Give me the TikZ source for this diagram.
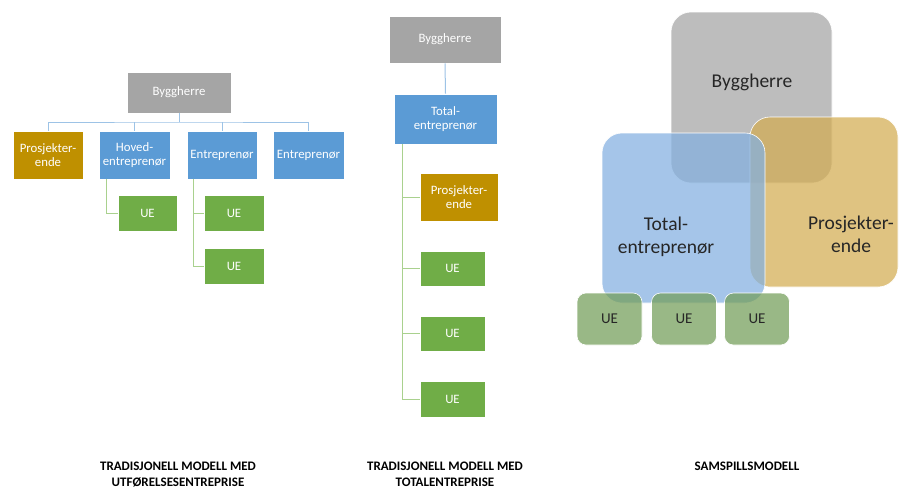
\documentclass[tikz,border=0pt]{standalone}
\usepackage{fontspec}
\setmainfont{Carlito}
\definecolor{cgray}{HTML}{A5A5A5}
\definecolor{cgold}{HTML}{BF9000}
\definecolor{cblue}{HTML}{5B9BD5}
\definecolor{cgreen}{HTML}{70AD47}
\definecolor{lblue}{HTML}{9DC3E6}
\definecolor{lgreen}{HTML}{A9D18E}
\definecolor{sgray}{HTML}{A4A4A4}
\definecolor{sgold}{HTML}{D3AC51}
\definecolor{sblue}{HTML}{83B0E1}
\definecolor{sgreen}{HTML}{739D58}
\definecolor{darktext}{HTML}{262626}
\tikzset{
  box/.style={draw=white, line width=0.6pt, inner sep=1pt, align=center, text=white,
    font=\fontsize{12.8}{14.5}\selectfont},
  bline/.style={draw=lblue, line width=1pt},
  gline/.style={draw=lgreen, line width=1pt},
  sbox/.style={draw=white, line width=0.6pt, rounded corners=20pt, fill opacity=0.72, inner sep=0pt},
  stext/.style={align=center, text=darktext, font=\fontsize{19.5}{23}\selectfont},
  ubox/.style={draw=white, line width=0.6pt, rounded corners=9pt, fill=sgreen, fill opacity=0.72,
    text opacity=1, text=darktext, font=\fontsize{15}{17}\selectfont, minimum width=65pt, minimum height=52pt},
  caption/.style={text=black, font=\fontsize{13}{15}\selectfont\bfseries, anchor=base}
}
\begin{document}
\begin{tikzpicture}[x=1pt,y=-1pt]
\fill[white] (0,0) rectangle (899,490);
\useasboundingbox (0,0) rectangle (899,490);

% ---------- Left diagram ----------
\node[box, fill=cgray, minimum width=104pt, minimum height=41pt] (lb) at (179,92.5) {Byggherre};
\node[box, fill=cgold, minimum width=70pt, minimum height=48pt] (lp) at (48,155) {Prosjekter-\\ende};
\node[box, fill=cblue, minimum width=71pt, minimum height=48pt] (lh) at (134.5,155) {Hoved-\\entreprenør};
\node[box, fill=cblue, minimum width=70pt, minimum height=48pt] (le1) at (222,155) {Entreprenør};
\node[box, fill=cblue, minimum width=71pt, minimum height=48pt] (le2) at (308.5,155) {Entreprenør};
\node[box, fill=cgreen, minimum width=59pt, minimum height=36pt] (lu1) at (147.5,213) {UE};
\node[box, fill=cgreen, minimum width=60pt, minimum height=36pt] (lu2) at (234,213) {UE};
\node[box, fill=cgreen, minimum width=60pt, minimum height=36pt] (lu3) at (234,266) {UE};
\coordinate (lbus) at (179,122);
\draw[bline] (lb.south) -- (lbus);
\draw[bline] (lp.north) |- (lbus) -| (le2.north);
\draw[bline] (lh.north) -- (lh.north |- lbus);
\draw[bline] (le1.north) -- (le1.north |- lbus);
\draw[gline] ([xshift=8pt]lh.south west) |- (lu1.west);
\draw[gline] ([xshift=7pt]le1.south west) |- (lu2.west);
\draw[gline] ([xshift=7pt]le1.south west) |- (lu3.west);

% ---------- Middle diagram ----------
\node[box, fill=cgray, minimum width=112pt, minimum height=47pt] (mb) at (445,39.5) {Byggherre};
\node[box, fill=cblue, minimum width=103pt, minimum height=50pt] (mt) at (445.5,119) {Total-\\entreprenør};
\node[box, fill=cgold, minimum width=78pt, minimum height=48pt] (mp) at (459,197) {Prosjekter-\\ende};
\node[box, fill=cgreen, minimum width=65pt, minimum height=35pt] (mu1) at (452.5,268.5) {UE};
\node[box, fill=cgreen, minimum width=65pt, minimum height=35pt] (mu2) at (452.5,333.5) {UE};
\node[box, fill=cgreen, minimum width=65pt, minimum height=36pt] (mu3) at (452.5,399) {UE};
\draw[bline] (mb.south) -- (mt.north);
\draw[gline] ([xshift=9pt]mt.south west) |- (mp.west);
\draw[gline] ([xshift=9pt]mt.south west) |- (mu1.west);
\draw[gline] ([xshift=9pt]mt.south west) |- (mu2.west);
\draw[gline] ([xshift=9pt]mt.south west) |- (mu3.west);

% ---------- Right diagram ----------
\node[sbox, fill=sgray, minimum width=161pt, minimum height=171pt] (rb) at (751.5,97.5) {};
\node[sbox, fill=sgold, minimum width=148pt, minimum height=170pt] (rp) at (824,202) {};
\node[sbox, fill=sblue, minimum width=163pt, minimum height=170pt] (rt) at (683.5,218) {};
\node[ubox] (ru1) at (609.5,319) {UE};
\node[ubox] (ru2) at (684,319) {UE};
\node[ubox] (ru3) at (757,319) {UE};
\node[stext] (rbt) at (752,82) {Byggherre};
\node[stext] (rtt) at (666,237) {Total-\\entreprenør};
\node[stext] (rpt) at (851,234) {Prosjekter-\\ende};

% ---------- Captions ----------
\node[caption] (c1a) at (178,470) {TRADISJONELL MODELL MED};
\node[caption] (c1b) at (178,486) {UTFØRELSESENTREPRISE};
\node[caption] (c2a) at (445,470) {TRADISJONELL MODELL MED};
\node[caption] (c2b) at (445,486) {TOTALENTREPRISE};
\node[caption] (c3) at (747,470) {SAMSPILLSMODELL};
\end{tikzpicture}
\end{document}
